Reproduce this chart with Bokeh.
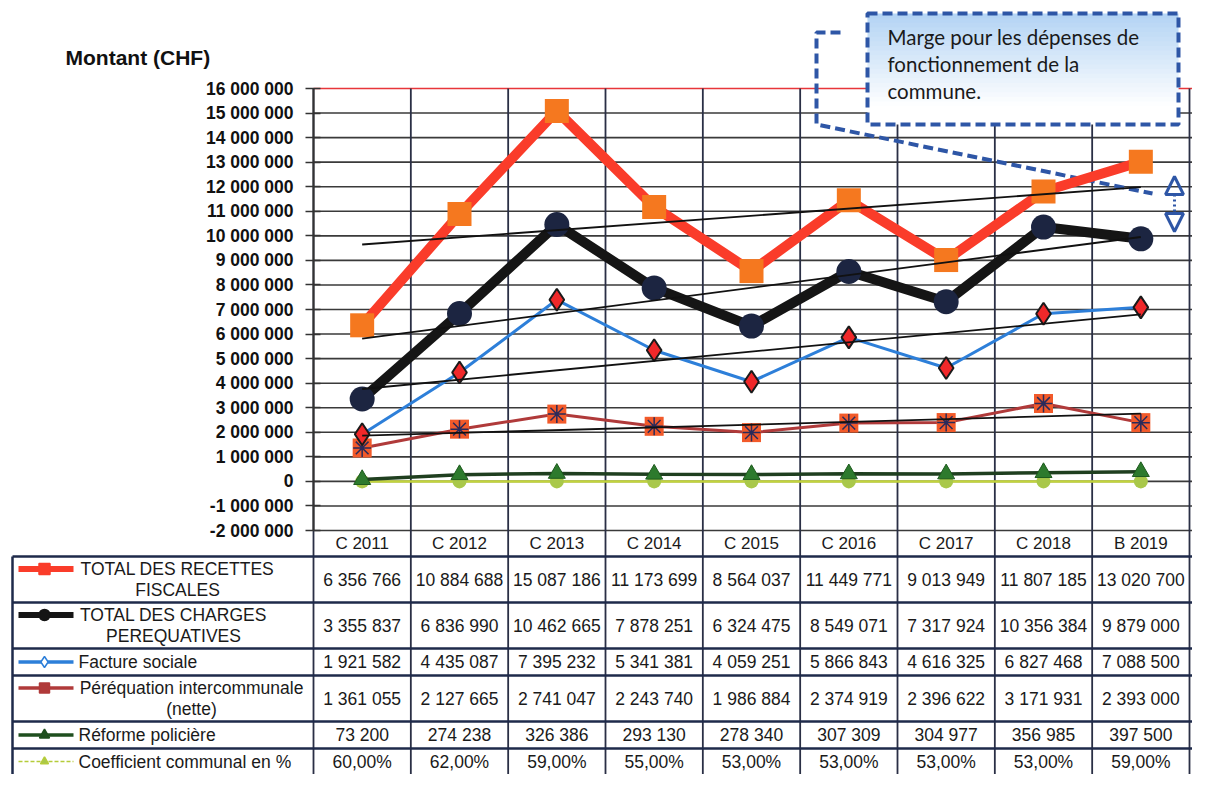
import numpy as np
from bokeh.plotting import figure
from bokeh.models import (Range1d, LinearAxis, FixedTicker, Arrow, NormalHead,
                          CustomJSTickFormatter)
from bokeh.embed import file_html
from bokeh.resources import INLINE
from bokeh.core.properties import value

# ---------------- data ----------------
CATEGORIES = ["C 2011", "C 2012", "C 2013", "C 2014", "C 2015", "C 2016", "C 2017", "C 2018", "B 2019"]
RECETTES = [6356766, 10884688, 15087186, 11173699, 8564037, 11449771, 9013949, 11807185, 13020700]
CHARGES = [3355837, 6836990, 10462665, 7878251, 6324475, 8549071, 7317924, 10356384, 9879000]
FACTURE = [1921582, 4435087, 7395232, 5341381, 4059251, 5866843, 4616325, 6827468, 7088500]
PEREQ = [1361055, 2127665, 2741047, 2243740, 1986884, 2374919, 2396622, 3171931, 2393000]
POLICE = [73200, 274238, 326386, 293130, 278340, 307309, 304977, 356985, 397500]
COEF = [60.0, 62.0, 59.0, 55.0, 53.0, 53.0, 53.0, 53.0, 59.0]
Y_TICKS = list(range(-2000000, 16000001, 1000000))
SERIES_LABELS = ["TOTAL DES RECETTES\nFISCALES", "TOTAL DES CHARGES\nPEREQUATIVES",
                 "Facture sociale", "Péréquation intercommunale\n(nette)",
                 "Réforme policière", "Coefficient communal en %"]
Y_TITLE = "Montant (CHF)"
NOTE_LINES = ["Marge pour les dépenses de", "fonctionnement de la", "commune."]

# ---------------- layout helpers (canvas pixel -> data) ----------------
W, H = 1192, 774
AXIS_PX = 313
COL_PX = (1189 - AXIS_PX) / 9.0
X0_PX = AXIS_PX + COL_PX / 2
ZERO_PX = 480.9
PX_PER_UNIT = 24.556 / 1e6


def fx(px):
    return (px - X0_PX) / COL_PX


def fy(py):
    return (ZERO_PX - py) / PX_PER_UNIT


N = len(CATEGORIES)
XS = list(range(N))

p = figure(width=W, height=H, x_range=Range1d(fx(0), fx(W)), y_range=Range1d(fy(H), fy(0)),
           x_axis_type=None, y_axis_type=None, toolbar_location=None, output_backend="svg",
           min_border=0, outline_line_color=None)
p.title.visible = False
p.background_fill_color = "white"

# ---------------- y axis ----------------
yaxis = LinearAxis(fixed_location=fx(AXIS_PX), bounds=(Y_TICKS[0], Y_TICKS[-1]),
                   ticker=FixedTicker(ticks=Y_TICKS))
yaxis.formatter = CustomJSTickFormatter(
    code=r"return Math.round(tick).toString().replace(/\B(?=(\d{3})+(?!\d))/g, ' ');")
yaxis.axis_line_color = "#333333"
yaxis.axis_line_width = 2
yaxis.major_tick_in = 7
yaxis.major_tick_out = 8
yaxis.major_tick_line_color = "#333333"
yaxis.major_tick_line_width = 1.5
yaxis.minor_tick_in = 0
yaxis.minor_tick_out = 0
yaxis.major_label_standoff = 12
yaxis.major_label_text_font = "Liberation Sans"
yaxis.major_label_text_font_style = "bold"
yaxis.major_label_text_font_size = "17.5px"
yaxis.major_label_text_color = "#111111"
p.add_layout(yaxis, "left")

p.text(x=[fx(65)], y=[fy(57)], text=[Y_TITLE], text_font=value("Liberation Sans"),
       text_font_style="bold", text_font_size="21px", text_baseline="middle",
       text_align="left", text_color="#111111")

# ---------------- grid ----------------
grid_ticks = [t for t in Y_TICKS if t != Y_TICKS[-1]]
p.segment(x0=[fx(AXIS_PX)] * len(grid_ticks), x1=[fx(W)] * len(grid_ticks),
          y0=grid_ticks, y1=grid_ticks, line_color="#3a3a3a", line_width=1.6)
p.segment(x0=[fx(AXIS_PX)], x1=[fx(W)], y0=[Y_TICKS[-1]], y1=[Y_TICKS[-1]],
          line_color="#e8363a", line_width=1.6)
bounds_x = [i - 0.5 for i in range(N + 1)]
p.segment(x0=bounds_x, x1=bounds_x, y0=[Y_TICKS[-1]] * len(bounds_x), y1=[fy(H)] * len(bounds_x),
          line_color="#2a2f45", line_width=1.8)

# ---------------- table ----------------
row_lines = [556, 602, 648, 675, 721, 748]
p.segment(x0=[fx(12)] * len(row_lines), x1=[fx(W)] * len(row_lines),
          y0=[fy(v) for v in row_lines], y1=[fy(v) for v in row_lines],
          line_color="#1e2a4a", line_width=2.5)
p.segment(x0=[fx(12)], x1=[fx(12)], y0=[fy(556)], y1=[fy(H)], line_color="#1e2a4a", line_width=2.5)

FONT = value("Liberation Sans")
p.text(x=XS, y=[fy(543)] * N, text=CATEGORIES, text_font=FONT, text_font_size="17px",
       text_align="center", text_baseline="middle", text_color="#1a1a1a")


def fmt_int(v):
    return f"{v:,}".replace(",", " ")


def fmt_pct(v):
    return f"{v:.2f}%".replace(".", ",")


rows = [RECETTES, CHARGES, FACTURE, PEREQ, POLICE]
row_centers = [579, 625, 661.5, 698, 734.5, 761]
tx, ty, tt = [], [], []
for r, vals in enumerate(rows):
    for i, v in enumerate(vals):
        tx.append(i); ty.append(fy(row_centers[r])); tt.append(fmt_int(v))
for i, v in enumerate(COEF):
    tx.append(i); ty.append(fy(row_centers[5])); tt.append(fmt_pct(v))
p.text(x=tx, y=ty, text=tt, text_font=FONT, text_font_size="17.5px", text_align="center",
       text_baseline="middle", text_color="#1a1a1a")

# legend labels
label_centers = [177, 173, None, 191, None, None]
for r, lab in enumerate(SERIES_LABELS):
    parts = lab.split("\n")
    first = row_centers[r] - 10.5 * (len(parts) - 1)
    for k, part in enumerate(parts):
        if label_centers[r] is None:
            xx, al = fx(78), "left"
        else:
            xx, al = fx(label_centers[r]), "center"
        p.text(x=[xx], y=[fy(first + 21 * k)], text=[part], text_font=FONT,
               text_font_size="17.5px", text_align=al, text_baseline="middle", text_color="#1a1a1a")

# ---------------- callout box ----------------
nb = 24
top_py, bot_py = 13, 124
lefts, rights, tops, bots, cols = [], [], [], [], []
for k in range(nb):
    t = k / (nb - 1)
    tt_ = min(1.0, t / 0.85)
    c = tuple(int(round(a + (255 - a) * tt_)) for a in (180, 212, 244))
    y_top = top_py + (bot_py - top_py) * k / nb
    y_bot = min(bot_py, top_py + (bot_py - top_py) * (k + 1) / nb + 1.0)
    lefts.append(fx(867)); rights.append(fx(1178))
    tops.append(fy(y_top)); bots.append(fy(y_bot))
    cols.append("#%02x%02x%02x" % c)
p.quad(left=lefts, right=rights, top=tops, bottom=bots, fill_color=cols, line_color=None)
p.quad(left=[fx(867)], right=[fx(1178)], top=[fy(13)], bottom=[fy(124)], fill_color=None,
       line_color="#2e56a6", line_width=4, line_dash="10 5")
p.line(x=[fx(840), fx(816), fx(816), fx(1152)], y=[fy(32), fy(32), fy(124), fy(193)],
       line_color="#2e56a6", line_width=4, line_dash="10 5")
p.text(x=[fx(887)] * 3, y=[fy(36), fy(63), fy(90)], text=NOTE_LINES, text_font=value("Lato"),
       text_font_size="20.5px", text_baseline="middle", text_align="left", text_color="#1a1a1a")
p.add_layout(Arrow(x_start=fx(1174), y_start=fy(231), x_end=fx(1174), y_end=fy(176),
                   line_color="#2e56a6", line_width=3, line_dash="2 3",
                   start=NormalHead(size=18, fill_alpha=0, line_color="#2e56a6", line_width=3),
                   end=NormalHead(size=18, fill_alpha=0, line_color="#2e56a6", line_width=3)))

# ---------------- series ----------------
coef_y = [c / 100.0 for c in COEF]
p.line(XS, coef_y, line_color="#c2d43c", line_width=2.5)
p.scatter(XS, coef_y, marker="circle", size=14, fill_color="#a9c84a", line_color=None)

p.line(XS, POLICE, line_color="#1f3f1f", line_width=3.5)
p.scatter(XS, POLICE, marker="triangle", size=17, fill_color="#2d7a2d", line_color="#1d5a1d")

p.line(XS, PEREQ, line_color="#b03a3a", line_width=3)
p.scatter(XS, PEREQ, marker="square", size=19, fill_color="#f25a2a", line_color=None)
p.scatter(XS, PEREQ, marker="asterisk", size=18, line_color="#2a2a5a", line_width=1.5)

p.line(XS, FACTURE, line_color="#2d7fd9", line_width=3)
p.scatter(XS, FACTURE, marker="diamond", size=22, fill_color="#f0282a", line_color="#1a1a1a", line_width=2)

p.line(XS, CHARGES, line_color="#151515", line_width=10)
p.scatter(XS, CHARGES, marker="circle", size=25, fill_color="#1c2541", line_color=None)

p.line(XS, RECETTES, line_color="#fa3c2a", line_width=10)
p.scatter(XS, RECETTES, marker="square", size=24, fill_color="#f5781f", line_color=None)

# trend lines (least squares)
for vals in [RECETTES, CHARGES, FACTURE, PEREQ]:
    k, b = np.polyfit(XS, vals, 1)
    p.line([XS[0], XS[-1]], [b + k * XS[0], b + k * XS[-1]], line_color="#111111", line_width=1.8)

# ---------------- legend samples in table ----------------
styles = [
    dict(lc="#fa3c2a", lw=6, m="square", ms=11, mf="#fa3c2a", dash="solid"),
    dict(lc="#151515", lw=6, m="circle", ms=11, mf="#151515", dash="solid"),
    dict(lc="#2d7fd9", lw=3.5, m="diamond", ms=11, mf="white", dash="solid"),
    dict(lc="#b03a3a", lw=3.5, m="square", ms=10, mf="#b03a3a", dash="solid"),
    dict(lc="#1f4f1f", lw=3.5, m="triangle", ms=10, mf="#1f4f1f", dash="solid"),
    dict(lc="#b5cc3a", lw=1.5, m="triangle", ms=8, mf="#a9c84a", dash="4 2"),
]
for r, st in enumerate(styles):
    n_lines = SERIES_LABELS[r].count("\n") + 1
    yy = fy(row_centers[r] - 10.5 * (n_lines - 1))
    p.line([fx(18), fx(73)], [yy, yy], line_color=st["lc"], line_width=st["lw"], line_dash=st["dash"])
    p.scatter([fx(44)], [yy], marker=st["m"], size=st["ms"], fill_color=st["mf"], line_color=st["lc"],
              line_width=1.5)

open("out.html", "w").write(file_html(p, INLINE))
